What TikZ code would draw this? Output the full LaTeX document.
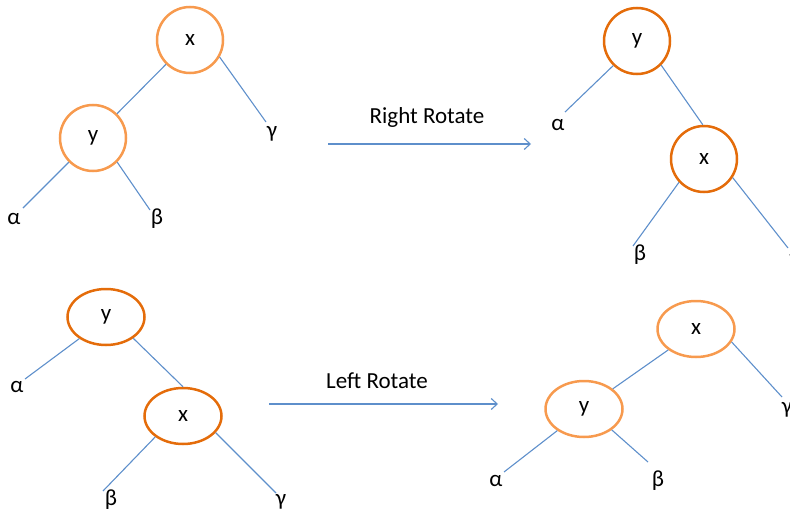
\documentclass[tikz,border=0pt]{standalone}
\usepackage{fontspec}
\setmainfont{Carlito}
\usetikzlibrary{shapes.geometric,arrows.meta}
\definecolor{lightor}{HTML}{F79A4E}
\definecolor{darkor}{HTML}{E46C0A}
\definecolor{edgeblue}{HTML}{5E8FCB}
\tikzset{
  lnode/.style={circle,draw=lightor,line width=2.5pt,minimum size=66pt,inner sep=0pt,font=\fontsize{23}{25}\selectfont},
  dnode/.style={circle,draw=darkor,line width=2.5pt,minimum size=66pt,inner sep=0pt,font=\fontsize{23}{25}\selectfont},
  lell/.style={ellipse,draw=lightor,line width=2.5pt,minimum width=77pt,minimum height=56pt,inner sep=0pt,font=\fontsize{23}{25}\selectfont},
  dell/.style={ellipse,draw=darkor,line width=2.5pt,minimum width=77pt,minimum height=56pt,inner sep=0pt,font=\fontsize{23}{25}\selectfont},
  leaf/.style={inner sep=0pt,font=\fontsize{23}{25}\selectfont},
  edge/.style={draw=edgeblue,line width=1.1pt},
  oparrow/.style={draw=edgeblue,line width=1.1pt,-{Straight Barb[length=6pt,width=11pt]}},
  caption/.style={inner sep=0pt,font=\fontsize{23}{25}\selectfont}
}
\begin{document}
\begin{tikzpicture}[x=1pt,y=-1pt]
\useasboundingbox (0,0) rectangle (790,514);
% ---- top-left tree ----
\node[lnode] (tlx) at (190,40) {x};
\node[lnode] (tly) at (93,138) {y};
\coordinate (tlge) at (266,122);
\coordinate (tlae) at (23,208);
\coordinate (tlbe) at (150,210);
\node[leaf] (tlg) at (272,134) {γ};
\node[leaf] (tla) at (14,219) {α};
\node[leaf] (tlb) at (157,219) {β};
\draw[edge] (tlx) -- (tly);
\draw[edge] (tlx.-30) -- (tlge);
\draw[edge] (tly.-135) -- (tlae);
\draw[edge] (tly.-45) -- (tlbe);
% ---- Right Rotate ----
\node[caption] (rrt) at (427,117) {Right Rotate};
\coordinate (rrs) at (328,144);
\coordinate (rre) at (531,144);
\draw[oparrow] (rrs) -- (rre);
% ---- top-right tree ----
\node[dnode] (try) at (637,41) {y};
\node[dnode] (trx) at (704,159) {x};
\coordinate (trae) at (565,112);
\coordinate (trbe) at (633,246);
\coordinate (trge) at (788,248);
\node[leaf] (tra) at (558,125) {α};
\node[leaf] (trb) at (640,255) {β};
\node[leaf] (trg) at (795,262) {γ};
\draw[edge] (try.-45) -- (trx.92);
\draw[edge] (try.-134) -- (trae);
\draw[edge] (trx.-137) -- (trbe);
\draw[edge] (trx.-33) -- (trge);
% ---- bottom-left tree ----
\node[dell] (bly) at (106,317) {y};
\node[dell] (blx) at (183,416) {x};
\coordinate (blae) at (25,379);
\coordinate (blbe) at (103,491);
\coordinate (blge) at (276,493);
\node[leaf] (bla) at (17,387) {α};
\node[leaf] (blb) at (111,500) {β};
\node[leaf] (blg) at (281,502) {γ};
\draw[edge] (bly.-38) -- (blx.90);
\draw[edge] (bly.-141) -- (blae);
\draw[edge] (blx.-143) -- (blbe);
\draw[edge] (blx.-27) -- (blge);
% ---- Left Rotate ----
\node[caption] (lrt) at (377,381) {Left Rotate};
\coordinate (lrs) at (269,404);
\coordinate (lre) at (498,404);
\draw[oparrow] (lrs) -- (lre);
% ---- bottom-right tree ----
\node[lell] (brx) at (696,329) {x};
\node[lell] (bry) at (584,409) {y};
\coordinate (brge) at (782,397);
\coordinate (brae) at (504,472);
\coordinate (brbe) at (648,462);
\node[leaf] (brg) at (787,410) {γ};
\node[leaf] (bra) at (496,481) {α};
\node[leaf] (brb) at (658,481) {β};
\draw[edge] (brx.-143) -- (bry.35);
\draw[edge] (brx.-20) -- (brge);
\draw[edge] (bry.-141) -- (brae);
\draw[edge] (bry.-37) -- (brbe);
\end{tikzpicture}
\end{document}
